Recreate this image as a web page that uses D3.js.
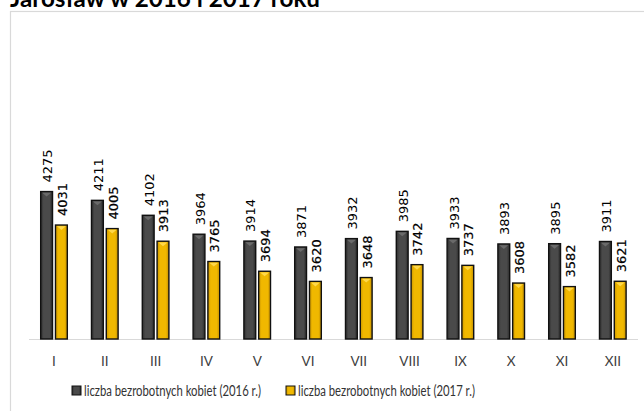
<!DOCTYPE html>
<html><head><meta charset="utf-8">
<script src="https://cdn.jsdelivr.net/npm/d3@7"></script>
<style>
body{margin:0;background:#fff;}
svg{display:block;}
</style></head>
<body>
<svg id="chart" width="644" height="411"></svg>
<script>
const months = ["I","II","III","IV","V","VI","VII","VIII","IX","X","XI","XII"];
const v2016 = [4275,4211,4102,3964,3914,3871,3932,3985,3933,3893,3895,3911];
const v2017 = [4031,4005,3913,3765,3694,3620,3648,3742,3737,3608,3582,3621];
const seriesNames = ["liczba bezrobotnych kobiet (2016 r.)","liczba bezrobotnych kobiet (2017 r.)"];
const titleText = "Jarosław w 2016 i 2017 roku";

const svg = d3.select("#chart");
const defs = svg.append("defs");
function grad(id, stops){
  const g = defs.append("linearGradient").attr("id",id).attr("x1","0").attr("x2","1").attr("y1","0").attr("y2","0");
  stops.forEach(s=>g.append("stop").attr("offset",s[0]).attr("stop-color",s[1]));
}
grad("gDark",[[0,"#2e2e2e"],[0.25,"#4a4a4a"],[0.75,"#4a4a4a"],[1,"#2a2a2a"]]);
grad("gGold",[[0,"#c89400"],[0.25,"#f0b800"],[0.75,"#f0b800"],[1,"#c08c00"]]);

// chart border
svg.append("rect").attr("x",10.5).attr("y",11.5).attr("width",700).attr("height",500)
  .attr("fill","none").attr("stroke","#d9d9d9").attr("stroke-width",1.2);

// title (cut off at top, as in the reference)
svg.append("text").attr("x",10).attr("y",6.5).text(titleText)
  .attr("font-family","Lato, 'Open Sans', sans-serif").attr("font-weight","bold")
  .attr("font-size",24).attr("fill","#000")
  .attr("textLength",310).attr("lengthAdjust","spacingAndGlyphs");

const x0 = d3.scaleBand().domain(months).range([28.6,638.2]).paddingInner(0.476).paddingOuter(0.238);
const x1 = d3.scaleBand().domain([0,1]).range([0,x0.bandwidth()]).paddingInner(0.2);
const y = d3.scaleLinear().domain([3200,4600]).range([339,147]);

// axis line
svg.append("line").attr("x1",29).attr("x2",638).attr("y1",339.5).attr("y2",339.5)
  .attr("stroke","#d9d9d9").attr("stroke-width",1);

const data = months.map((m,i)=>({m, vals:[v2016[i],v2017[i]]}));
const fills = ["url(#gDark)","url(#gGold)"];
const bevel = ["#6a6a6a","#ffd84a"];

const g = svg.append("g").selectAll("g").data(data).join("g")
  .attr("transform",d=>`translate(${x0(d.m)},0)`);

g.each(function(d){
  const gg = d3.select(this);
  d.vals.forEach((v,s)=>{
    const bx = x1(s), bw = x1.bandwidth(), by = y(v), bh = y.range()[0]-y(v);
    gg.append("rect").attr("x",bx).attr("y",by).attr("width",bw).attr("height",bh)
      .attr("fill",fills[s]).attr("stroke","#111").attr("stroke-width",1.4);
    gg.append("path")
      .attr("d",`M${bx+1.5},${by+1.2} L${bx+bw-1.5},${by+1.2} L${bx+bw/2},${by+5} Z`)
      .attr("fill",bevel[s]);
    gg.append("text")
      .attr("transform",`translate(${bx+bw/2+1},${by-9}) rotate(-90)`)
      .attr("dominant-baseline","central")
      .attr("font-family","'DejaVu Sans', sans-serif").attr("font-size",13)
      .attr("fill","#000")
      .attr("stroke",s===1?"#000":"none").attr("stroke-width",s===1?0.2:0)
      .text(v);
  });
});

// x tick labels
svg.append("g").selectAll("text").data(months).join("text")
  .attr("x",d=>x0(d)+x0.bandwidth()/2).attr("y",366)
  .attr("text-anchor","middle")
  .attr("font-family","Lato, 'Open Sans', sans-serif").attr("font-size",13.5)
  .attr("fill","#404040").text(d=>d);

// legend
const legX = [72,286];
const lg = svg.append("g").selectAll("g").data(seriesNames).join("g")
  .attr("transform",(d,i)=>`translate(${legX[i]},386)`);
lg.append("rect").attr("width",9).attr("height",9).attr("fill",(d,i)=>fills[i])
  .attr("stroke","#111").attr("stroke-width",1);
lg.append("text").attr("x",12).attr("y",9.5)
  .attr("font-family","'Liberation Sans Narrow', Lato, sans-serif").attr("font-size",14.5)
  .attr("textLength",177).attr("lengthAdjust","spacingAndGlyphs")
  .attr("fill","#333").text(d=>d);
</script>
</body></html>
